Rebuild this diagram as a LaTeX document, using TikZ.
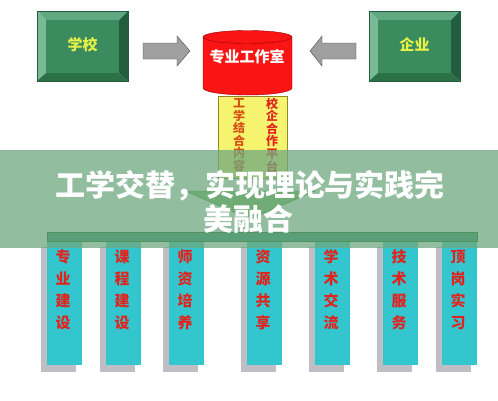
\documentclass[tikz,border=0pt]{standalone}
\usepackage{fontspec}
\newfontfamily\cjk{Noto Sans CJK SC}
\usetikzlibrary{positioning}

\definecolor{faceGreen}{RGB}{58,140,95}
\definecolor{lightBevel}{RGB}{121,185,150}
\definecolor{topBevel}{RGB}{95,168,130}
\definecolor{darkBevel}{RGB}{34,94,62}
\definecolor{lowBevel}{RGB}{44,112,72}
\definecolor{cylRed}{RGB}{250,20,20}
\definecolor{padYellow}{RGB}{246,244,110}
\definecolor{colTeal}{RGB}{52,198,206}
\definecolor{shadowGrey}{RGB}{190,190,196}
\definecolor{barGreen}{RGB}{30,140,100}
\definecolor{arrowGreen}{RGB}{120,190,90}
\definecolor{bannerGreen}{RGB}{110,168,128}
\definecolor{labelRed}{RGB}{225,35,30}

\begin{document}
\begin{tikzpicture}[x=1pt, y=-1pt,
    boxtext/.style={font=\cjk\bfseries\fontsize{15}{15}\selectfont, text={rgb,255:red,232;green,242;blue,70}},
    coltext/.style={font=\cjk\bfseries\fontsize{15}{22}\selectfont, text=labelRed, align=center, inner sep=0pt},
    padtext/.style={font=\cjk\bfseries\fontsize{12}{12.6}\selectfont, align=center, inner sep=0pt},
    bannertext/.style={font=\cjk\bfseries\fontsize{30}{30}\selectfont, text=white, inner sep=0pt}]
    \useasboundingbox (0,0) rectangle (498,400);
    \fill[white] (0,0) rectangle (498,400);

    % Bevelled boxes for school and enterprise
    \foreach \bx/\nm/\lbl in {37/school/学校, 369/firm/企业} {
        \fill[topBevel] (\bx,11) -- (\bx+91,11) -- (\bx+82,20) -- (\bx+9,20) -- cycle;
        \fill[lightBevel] (\bx,11) -- (\bx+9,20) -- (\bx+9,73) -- (\bx,81) -- cycle;
        \fill[darkBevel] (\bx+91,11) -- (\bx+91,81) -- (\bx+82,73) -- (\bx+82,20) -- cycle;
        \fill[lowBevel] (\bx,81) -- (\bx+91,81) -- (\bx+82,73) -- (\bx+9,73) -- cycle;
        \fill[faceGreen] (\bx+9,20) rectangle (\bx+82,73);
        \draw[darkBevel, line width=0.6pt] (\bx,11) rectangle (\bx+91,81);
        \node[boxtext] (\nm) at (\bx+45.5,45) {\lbl};
    }

    % Grey arrows into the studio
    \shade[top color=gray!75, middle color=white, bottom color=gray!75, draw=gray!60!black]
        (143,43) -- (177,43) -- (177,36) -- (190,51) -- (177,66) -- (177,59) -- (143,59) -- cycle;
    \shade[top color=gray!75, middle color=white, bottom color=gray!75, draw=gray!60!black]
        (356,43) -- (322,43) -- (322,36) -- (310,51) -- (322,66) -- (322,59) -- (356,59) -- cycle;

    % Studio cylinder
    \filldraw[fill=cylRed, draw=red!60!black] (203,37) -- (203,88)
        arc[start angle=180, end angle=0, x radius=44.5, y radius=7] -- (292,37) -- cycle;
    \filldraw[fill=cylRed, draw=red!60!black] (247.5,37) ellipse[x radius=44.5, y radius=6.5];
    \node[font=\cjk\bfseries\fontsize{15}{15}\selectfont, text=white] (studio) at (247,57) {专业工作室};

    % Yellow pad with two vertical labels
    \filldraw[fill=padYellow, draw=olive!70!gray] (218,96) rectangle (287,178);
    \node[padtext, text={rgb,255:red,215;green,80;blue,20}] (content) at (239,135) {工\\学\\结\\合\\内\\容};
    \node[padtext, text=labelRed] (coop) at (272,135) {校\\企\\合\\作\\平\\台};

    % Green arrow head and bar
    \filldraw[fill=arrowGreen, draw=green!40!black] (185,191) -- (315,191) -- (250,219) -- cycle;

    % Columns with shadows
    \foreach \cx/\nm/\lbl in {47/major/专\\业\\建\\设, 106/course/课\\程\\建\\设, 169/teacher/师\\资\\培\\养,
                             247/share/资\\源\\共\\享, 315/academic/学\\术\\交\\流, 383/service/技\\术\\服\\务,
                             442/intern/顶\\岗\\实\\习} {
        \fill[shadowGrey] (\cx-6,247) rectangle (\cx+29,372);
        \fill[colTeal] (\cx,240) rectangle (\cx+35,365);
        \node[coltext] (\nm) at (\cx+16,290) {\lbl};
    }
    \filldraw[fill=barGreen, draw=green!30!black] (47,232) rectangle (477,241);

    % Banner over the middle
    \fill[bannerGreen, opacity=0.75] (0,150) rectangle (498,248);
    \node[bannertext] (title) at (250,186) {工学交替，实现理论与实践完};
    \node[bannertext] (title2) at (248,219) {美融合};
\end{tikzpicture}
\end{document}
